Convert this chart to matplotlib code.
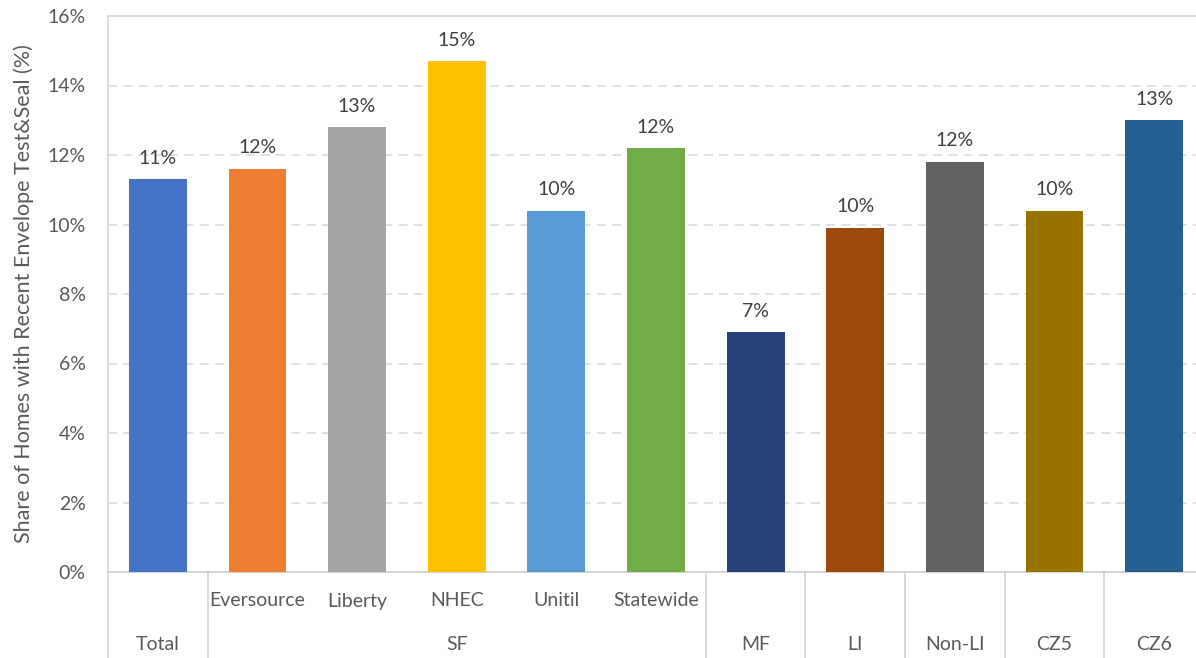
import matplotlib.pyplot as plt
from matplotlib.lines import Line2D

plt.rcParams['font.family'] = ['Lato', 'DejaVu Sans']

# chart data
categories = ['Total', 'Eversource', 'Liberty', 'NHEC', 'Unitil', 'Statewide',
              'MF', 'LI', 'Non-LI', 'CZ5', 'CZ6']
values = [11.3, 11.6, 12.8, 14.7, 10.4, 12.2, 6.9, 9.9, 11.8, 10.4, 13.0]
colors = ['#4472C4', '#ED7D31', '#A5A5A5', '#FFC000', '#5B9BD5', '#70AD47',
          '#264478', '#9E480E', '#636363', '#997300', '#255E91']
sub_labels = ['', 'Eversource', 'Liberty', 'NHEC', 'Unitil', 'Statewide',
              '', '', '', '', '']
groups = ['Total', 'SF', 'MF', 'LI', 'Non-LI', 'CZ5', 'CZ6']
group_spans = [(0, 0), (1, 5), (6, 6), (7, 7), (8, 8), (9, 9), (10, 10)]
yticks = [0, 2, 4, 6, 8, 10, 12, 14, 16]

text_col = '#595959'
line_col = '#D9D9D9'
fs = 14

fig = plt.figure(figsize=(11.96, 6.58), dpi=100, facecolor='white')
ax = fig.add_axes([108 / 1196, 1 - 572 / 658, 1 - 108 / 1196, 556 / 658])

x = list(range(len(categories)))
bars = ax.bar(x, values, width=0.58, color=colors, zorder=3)

for xi, v in zip(x, values):
    ax.annotate(f"{round(v)}%", (xi, v), xytext=(0, 9), textcoords='offset points',
                ha='center', va='bottom', fontsize=fs, color='#404040')

ax.set_xlim(-0.5, 10.42)
ax.set_ylim(0, 16)
ax.set_yticks(yticks)
ax.set_yticklabels([f"{t}%" for t in yticks], fontsize=fs, color=text_col)
ax.tick_params(axis='y', length=0, pad=16)
ax.set_xticks([])

for t in yticks[1:-1]:
    ax.axhline(t, color=line_col, linestyle=(0, (6, 4)), linewidth=1.1, zorder=1)

for name, sp in ax.spines.items():
    sp.set_color(line_col)
    sp.set_linewidth(1.3)
ax.spines['right'].set_visible(False)
ax.spines['bottom'].set_color('#D0D0D0')

ax.set_ylabel('Share of Homes with Recent Envelope Test&Seal (%)', fontsize=15.5,
              color=text_col, labelpad=10)

# two-level category axis
trans = ax.get_xaxis_transform()
for xi, lab in zip(x, sub_labels):
    if lab:
        ax.text(xi, -29 / 556, lab, transform=trans, ha='center', va='center',
                fontsize=fs, color=text_col)
for name, (a, b) in zip(groups, group_spans):
    ax.text((a + b) / 2, -72 / 556, name, transform=trans, ha='center', va='center',
            fontsize=fs, color=text_col)
for a, b in group_spans:
    for edge in (a - 0.5, b + 0.5):
        ax.add_line(Line2D([edge, edge], [0, -90 / 556], transform=trans,
                           color=line_col, linewidth=1.3, clip_on=False))

fig.savefig('out.png', dpi=100, facecolor='white')
